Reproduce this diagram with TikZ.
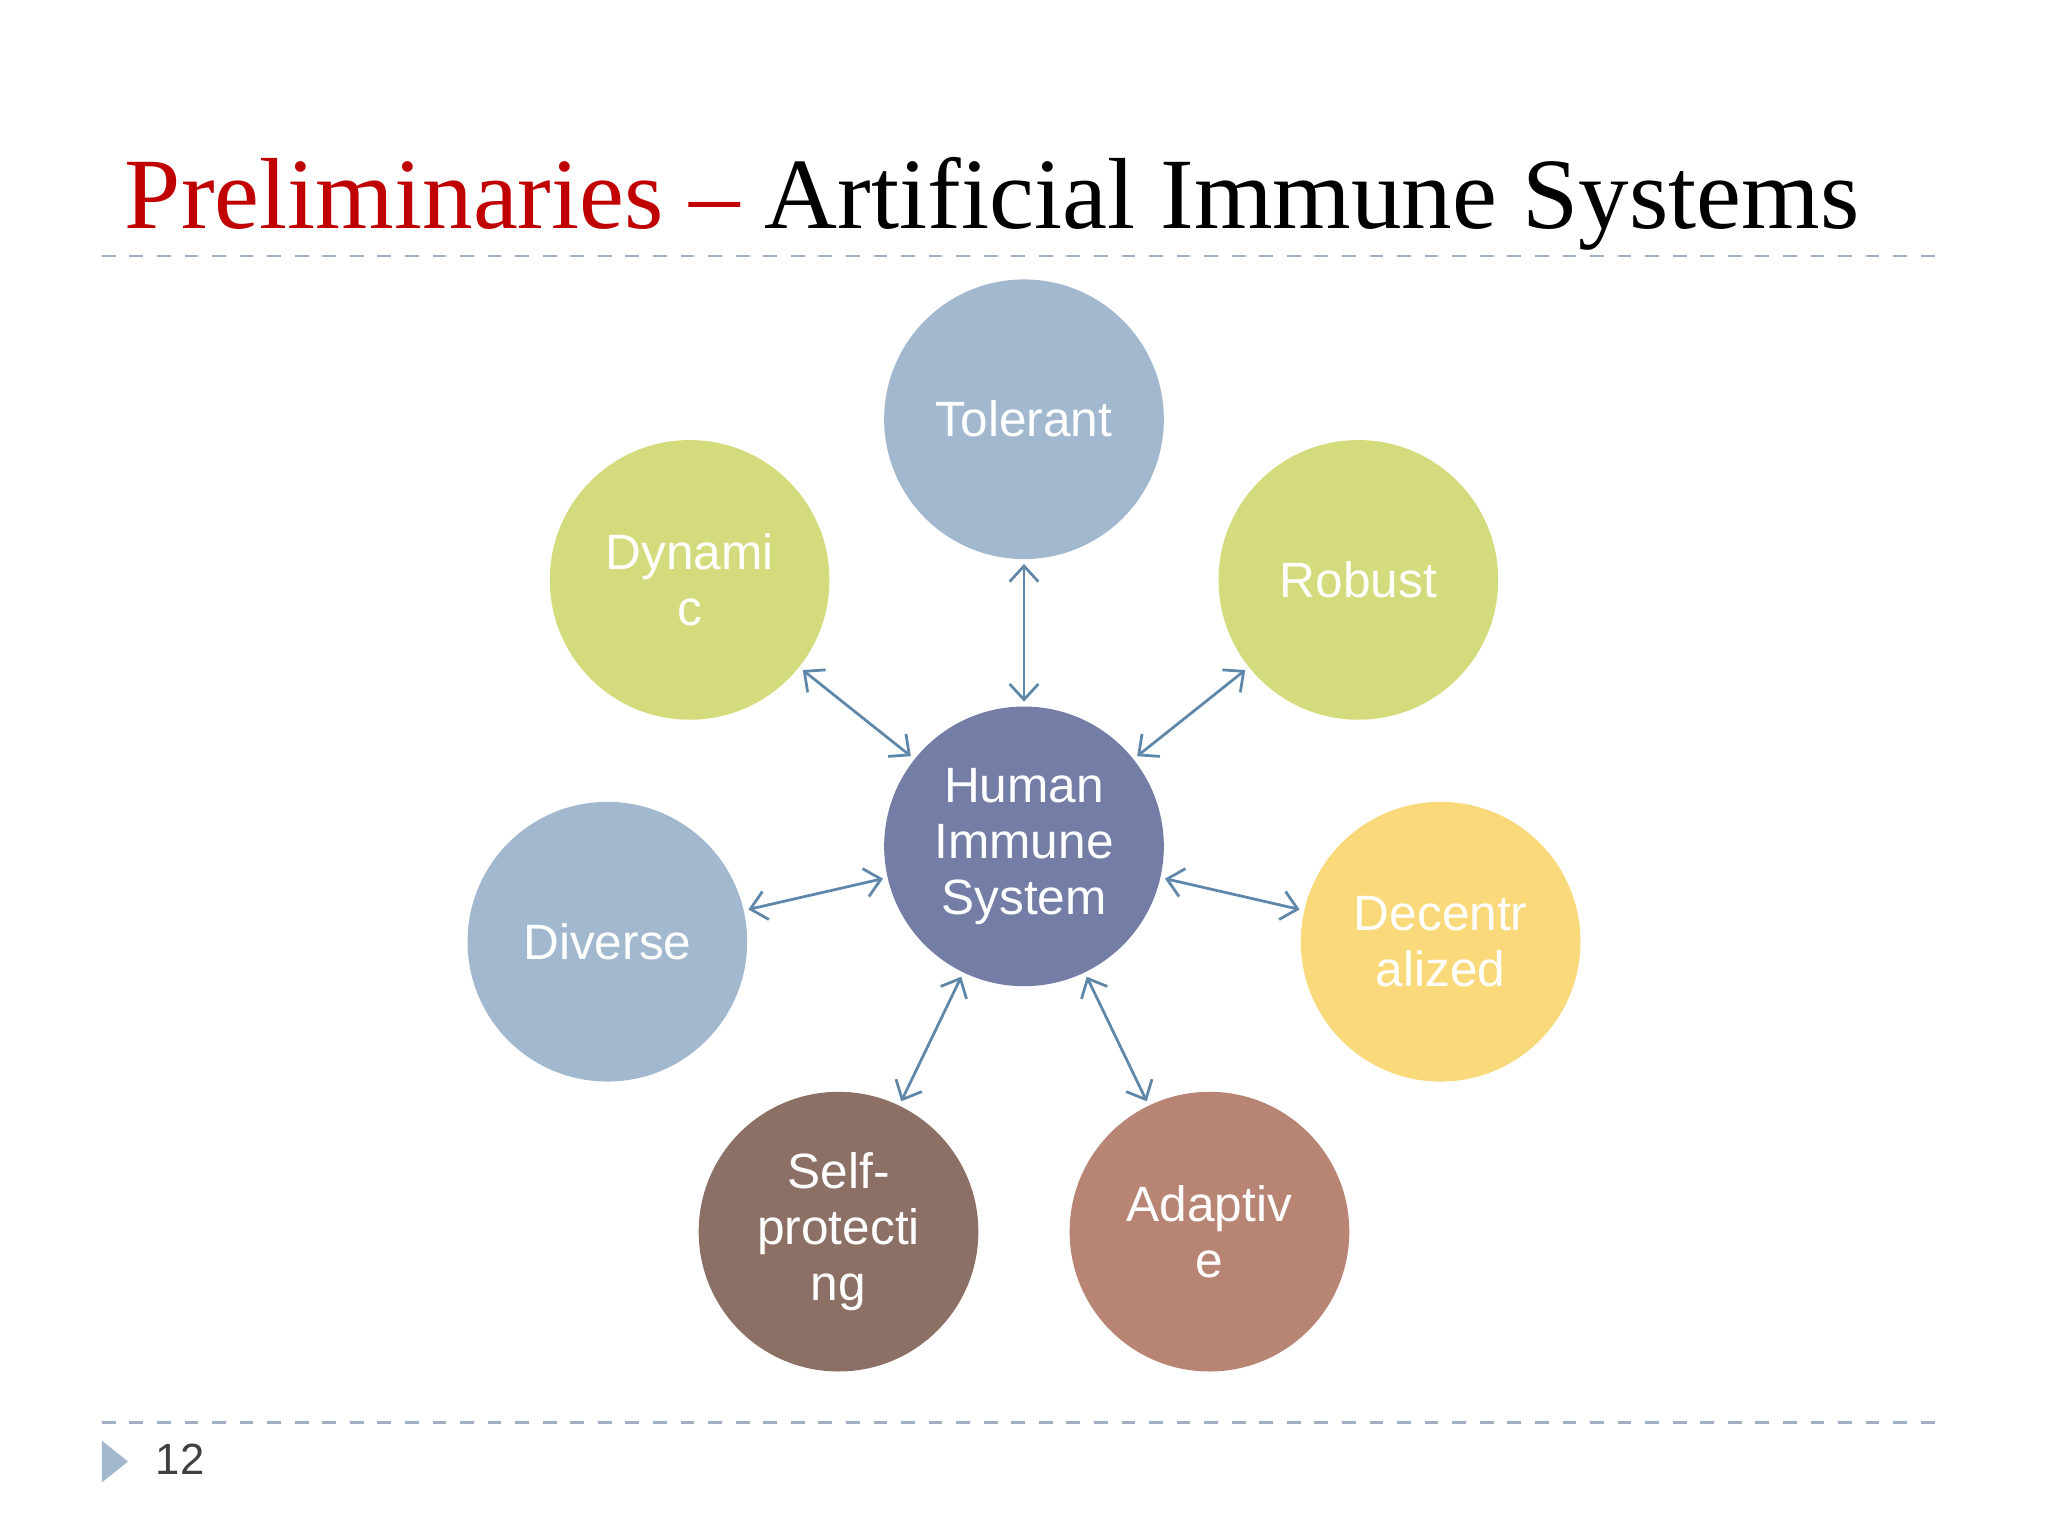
\documentclass[tikz,border=0pt]{standalone}
\usepackage{fontspec}
\setmainfont{Liberation Serif}
\setsansfont{Liberation Sans}
\usetikzlibrary{arrows.meta}
\definecolor{cblue}{RGB}{162,184,207}
\definecolor{cgreen}{RGB}{212,219,125}
\definecolor{chuman}{RGB}{115,125,165}
\definecolor{cyellow}{RGB}{250,217,122}
\definecolor{cbrown}{RGB}{140,112,102}
\definecolor{crose}{RGB}{184,132,116}
\definecolor{arr}{RGB}{95,135,170}
\definecolor{dashc}{RGB}{160,175,195}
\definecolor{tred}{RGB}{192,0,0}
\begin{document}
\begin{tikzpicture}[x=0.01cm,y=-0.01cm,
  bub/.style={circle,minimum size=2.14cm,inner sep=0pt,text=white,align=center,
    font=\sffamily\fontsize{10.8}{12.2}\selectfont},
  link/.style={draw=arr,line width=0.6pt,{Straight Barb[length=1.2mm,width=2.2mm]}-{Straight Barb[length=1.2mm,width=2.2mm]},shorten <=0.03cm,shorten >=0.03cm},
  rule/.style={draw=dashc,dashed,line width=0.5pt}]
\useasboundingbox[fill=white] (0,0) rectangle (1568,1176);
\node[anchor=base west,inner sep=0pt,font=\fontsize{22}{26}\selectfont] (title) at (95,175)
  {\textcolor{tred}{Preliminaries –} Artificial Immune Systems};
\coordinate (r1a) at (78,196); \coordinate (r1b) at (1490,196);
\coordinate (r2a) at (78,1089); \coordinate (r2b) at (1490,1089);
\draw[rule] (r1a) -- (r1b);
\draw[rule] (r2a) -- (r2b);
\fill[cblue] (78,1103) -- (98,1119) -- (78,1135) -- cycle;
\node[font=\sffamily\fontsize{9.5}{11}\selectfont,text=black!75] (pg) at (138,1117) {12};
\node[bub,fill=chuman] (h) at (784,648) {Human\\Immune\\System};
\node[bub,fill=cblue] (t) at (784,321) {Tolerant};
\node[bub,fill=cgreen] (d) at (528,444) {Dynami\\c};
\node[bub,fill=cgreen] (r) at (1040,444) {Robust};
\node[bub,fill=cblue] (v) at (465,721) {Diverse};
\node[bub,fill=cyellow] (z) at (1103,721) {Decentr\\alized};
\node[bub,fill=cbrown] (s) at (642,943) {Self-\\protecti\\ng};
\node[bub,fill=crose] (a) at (926,943) {Adaptiv\\e};
\foreach \n in {t,d,r,v,z,s,a} \draw[link] (h) -- (\n);
\end{tikzpicture}
\end{document}
